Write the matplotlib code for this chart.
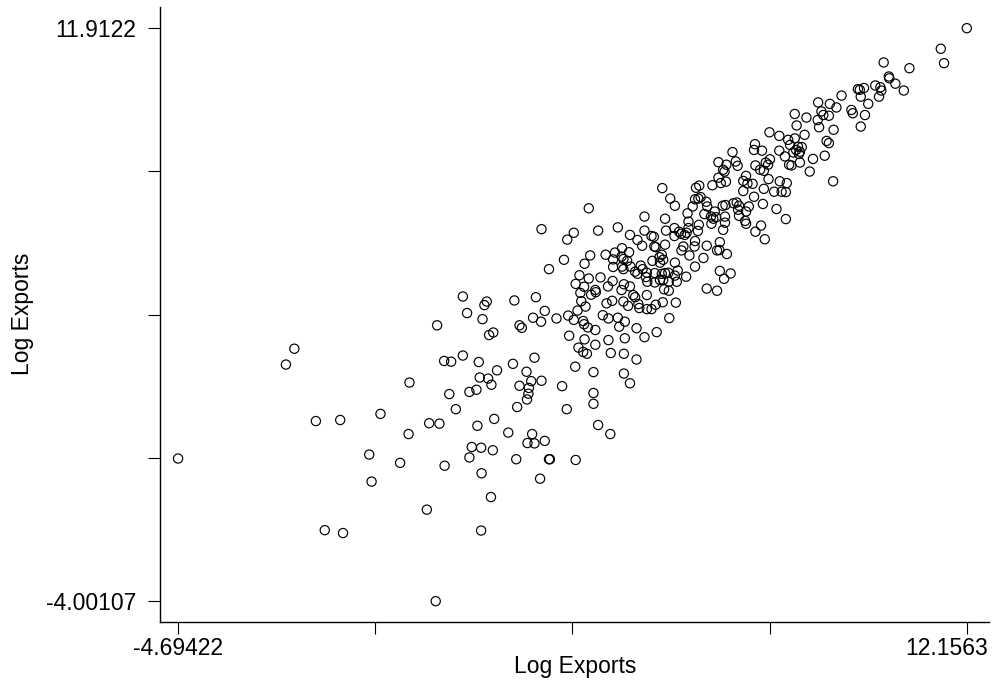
import numpy as np
import matplotlib
matplotlib.use('Agg')
import matplotlib.pyplot as plt
import matplotlib.transforms as mtransforms

plt.rcParams['font.family'] = ['Liberation Sans', 'DejaVu Sans']

# log exports (x) vs log exports (y)
x_vals = [
    0.84, -2.21, -2.39, 0.25, -1.75, -1.23, -0.37, 0.67, 0.89, 0.23,
    -4.694, -0.61, 0.05, -0.56, 0.62, -1.56, -1.17, 0.81,
    # middle band
    4.08, 3.07, 4.28, 3.76, 3.62, 4.70, 3.55, 4.11, 3.99, 4.44,
    4.64, 4.60, 3.23, 4.60, 3.88, 4.08, 4.33, 3.80, 3.98, 4.59,
    4.49, 4.22, 3.90, 4.13, 4.23, 3.92, 4.46, 4.58, 4.01, 3.84,
    3.64, 3.76, 3.96, 3.98, 4.06, 4.22, 4.38, 4.50, 4.70, 4.73,
    3.39, 3.14, 2.89, 3.06, 2.95, 2.49, 1.39, 1.90, 1.85, 1.48,
    1.81, 2.60, 2.65, 2.04, 1.95, 3.66, 3.99, 4.22, 4.50, 4.55,
    3.86, 3.96, 4.04, 0.99, 1.14, 1.39, 1.73, 2.92, 2.46, 2.12,
    2.75, 3.79, 4.18, 1.75, 1.93, 2.00, 1.68, 1.53, 1.10, 2.60,
    2.85, 3.07, 2.80, 2.79, 2.76, 3.51, 4.18, 4.18, 2.55, 1.24,
    3.61, 2.06, 1.70, 2.36, 2.87, 2.77, 2.92, 3.14, 4.28, 4.54,
    1.58, 1.78, 2.03, 1.53, 2.53, 3.23, 3.25, 3.80, 1.00, 1.79,
    3.04, 1.99, 1.78,
    # upper-middle band
    7.94, 8.15, 7.63, 7.61, 7.78, 7.15, 8.15, 7.95, 7.86, 7.91,
    6.85, 7.02, 7.22, 7.26, 7.64, 7.74, 7.82, 6.95, 6.98, 7.44,
    7.92, 6.85, 7.01, 8.16, 5.65, 6.37, 6.44, 6.72, 6.90, 7.38,
    7.47, 7.58, 7.82, 7.38, 8.04, 5.82, 5.92, 6.42, 6.47, 6.35,
    6.59, 6.61, 7.61, 6.30, 6.19, 6.55, 6.77, 6.94, 7.00, 7.17,
    7.24, 7.29, 7.50, 7.27, 7.44, 7.80, 8.09, 5.27, 5.71, 4.96,
    5.12, 5.27, 5.42, 5.47, 5.73, 5.91, 6.01, 6.05, 5.91, 6.13,
    6.17, 6.21, 6.21, 6.43, 6.41, 6.69, 6.74, 6.80, 6.70, 6.99,
    6.99, 6.95, 7.29, 7.42, 7.44, 7.64, 7.76, 7.84, 5.22, 5.48,
    5.51, 5.71, 6.10, 6.06, 6.35, 6.34, 6.60, 6.88, 6.82, 6.87,
    7.03, 4.79, 4.94, 4.78, 4.82, 4.90, 5.44, 5.59, 5.64, 5.67,
    5.60, 6.23, 6.53, 5.92, 6.35, 4.79, 4.82, 4.97, 5.19, 5.23,
    5.07, 5.12, 5.32, 5.30, 5.49, 5.64, 5.71, 5.78, 5.98, 5.92,
    6.16, 6.88, 7.11, 6.97, 5.33, 5.49, 5.60, 5.67, 5.96, 5.79,
    4.83, 4.96, 4.78, 5.69, 5.79, 5.32, 5.03, 5.07, 6.60, 6.82,
    4.82, 4.92, 5.14, 5.16, 5.32, 5.42, 5.51, 5.66, 5.94, 5.80,
    4.85, 5.10, 5.53, 4.85, 5.27, 4.83, 5.10, 4.83, 4.96,
    # top end
    12.156, 11.60, 11.67, 10.38, 10.93, 10.49, 10.50, 10.63, 10.81, 10.20,
    10.31, 10.33, 10.28, 9.83, 9.87, 9.96, 9.89, 9.48, 10.05, 8.98,
    9.23, 9.37, 9.69, 9.72, 9.98, 9.89, 8.48, 8.73, 9.05, 9.09,
    8.97, 9.21, 8.52, 9.00, 9.31, 8.69, 8.34, 8.48, 8.38, 9.16,
    9.21, 8.55, 8.63, 8.51, 8.59, 8.57, 8.45, 8.27, 8.87, 9.12,
    8.36, 8.41, 8.59, 8.80, 9.30, 8.31, 8.20, 8.29, 8.29,
]
y_vals = [
    3.66, 3.01, 2.57, 2.07, 1.00, 1.03, 1.20, 0.94, 0.93, 0.64,
    -0.04, 0.07, -0.16, -0.68, -1.46, -2.03, -2.11, -4.001,
    # middle band
    6.91, 6.33, 6.29, 6.23, 6.04, 6.38, 5.48, 5.60, 5.37, 5.62,
    5.68, 5.49, 5.22, 5.28, 5.05, 4.96, 4.99, 4.81, 4.73, 4.89,
    4.74, 4.64, 4.56, 4.51, 4.58, 4.33, 4.27, 4.34, 4.18, 4.07,
    3.93, 3.81, 3.78, 3.69, 3.60, 3.53, 3.94, 3.85, 3.87, 3.62,
    3.85, 4.06, 3.87, 3.76, 4.44, 4.35, 4.46, 4.32, 4.22, 4.00,
    3.83, 3.66, 3.59, 3.46, 3.39, 3.37, 3.27, 3.12, 3.25, 2.89,
    3.04, 2.92, 2.87, 2.67, 2.65, 2.82, 2.64, 2.76, 2.59, 2.41,
    2.37, 2.51, 2.36, 2.21, 2.18, 2.01, 1.87, 1.81, 1.75, 1.98,
    2.11, 2.12, 1.92, 1.76, 1.60, 1.97, 1.78, 1.48, 1.39, 1.33,
    1.33, 1.06, 0.87, 0.68, 0.64, 0.39, 0.38, 0.45, 0.89, 0.64,
    0.28, 0.26, 0.19, -0.01, -0.06, -0.06, -0.06, -0.08, -0.24, -0.45,
    -0.60, -1.11, -2.04,
    # upper-middle band
    9.02, 8.92, 8.69, 8.53, 8.51, 8.47, 8.51, 8.27, 8.18, 8.12,
    8.19, 8.12, 8.21, 8.09, 8.10, 7.98, 7.95, 7.98, 7.93, 7.81,
    7.72, 7.76, 7.65, 7.66, 7.47, 7.48, 7.54, 7.55, 7.61, 7.67,
    7.60, 7.59, 7.45, 7.39, 7.37, 7.18, 6.98, 7.18, 7.22, 7.16,
    7.09, 6.96, 7.23, 6.96, 6.77, 6.75, 6.82, 6.98, 7.00, 7.05,
    7.07, 6.98, 6.96, 6.87, 6.82, 7.03, 6.89, 6.68, 6.62, 6.17,
    6.03, 6.29, 6.14, 6.12, 6.29, 6.36, 6.26, 6.20, 6.14, 6.17,
    6.23, 6.54, 6.36, 6.45, 6.28, 6.68, 6.62, 6.66, 6.48, 6.68,
    6.51, 6.31, 6.70, 6.56, 6.48, 6.26, 6.43, 6.05, 5.87, 5.85,
    5.83, 5.90, 5.85, 5.74, 6.00, 5.85, 5.87, 5.97, 5.74, 5.75,
    5.64, 5.80, 5.69, 5.57, 5.50, 5.45, 5.45, 5.55, 5.62, 5.48,
    5.40, 5.60, 5.53, 5.40, 5.29, 5.29, 5.22, 5.29, 5.32, 5.22,
    5.15, 5.09, 5.12, 5.00, 5.11, 5.09, 5.11, 5.12, 5.18, 5.04,
    5.01, 5.17, 5.10, 4.95, 4.87, 4.85, 4.92, 4.92, 4.87, 4.87,
    4.80, 4.74, 4.64, 4.66, 4.62, 4.50, 4.50, 4.44, 4.68, 4.62,
    4.32, 4.20, 4.25, 4.14, 4.11, 4.11, 4.23, 4.30, 4.29, 3.86,
    3.76, 3.58, 3.47, 3.30, 3.33, 2.87, 2.71, 2.32, 2.05,
    # top end
    11.912, 11.34, 10.94, 10.96, 10.80, 10.57, 10.52, 10.37, 10.18, 10.32,
    10.27, 10.18, 10.01, 10.22, 10.20, 10.25, 10.01, 10.04, 9.81, 9.85,
    9.81, 9.71, 9.64, 9.55, 9.50, 9.18, 9.53, 9.43, 9.60, 9.50,
    9.36, 9.48, 9.21, 9.16, 9.09, 8.95, 8.81, 8.85, 8.67, 8.78,
    8.72, 8.62, 8.61, 8.53, 8.48, 8.42, 8.46, 8.35, 8.28, 8.37,
    8.12, 8.10, 8.18, 7.93, 7.66, 7.61, 7.37, 7.36, 6.61,
]

x_min, x_max = -4.69422, 12.1563
y_min, y_max = -4.00107, 11.9122
x_ticks = np.linspace(x_min, x_max, 5)
y_ticks = np.linspace(y_min, y_max, 5)
x_tick_labels = ['-4.69422', '', '', '', '12.1563']
y_tick_labels = ['-4.00107', '', '', '', '11.9122']

fig = plt.figure(figsize=(9.92, 6.90), dpi=100)
ax = fig.add_axes([160 / 992, 68 / 690, 829 / 992, 615 / 690])

ax.scatter(x_vals, y_vals, s=44, facecolors='none', edgecolors='black', linewidths=0.85)

ax.set_xlim(-5.08, 12.63)
ax.set_ylim(-4.58, 12.50)

ax.set_xticks(x_ticks)
ax.set_xticklabels(x_tick_labels)
ax.set_yticks(y_ticks)
ax.set_yticklabels(y_tick_labels)

ax.tick_params(axis='x', direction='out', length=8.6, width=0.8, pad=2, labelsize=16.5)
ax.tick_params(axis='y', direction='out', length=9, width=0.8, pad=8, labelsize=16.5)

for side in ['top', 'right']:
    ax.spines[side].set_visible(False)
for side in ['left', 'bottom']:
    ax.spines[side].set_linewidth(1.0)

# the last x label sits a bit left of its tick, as in the original
last = ax.get_xticklabels()[-1]
last.set_transform(last.get_transform() + mtransforms.ScaledTranslation(-20 / 100, 0, fig.dpi_scale_trans))

fig.text(575 / 992, 1 - 666 / 690, 'Log Exports', ha='center', va='center', fontsize=16.5)
fig.text(22 / 992, 1 - 314 / 690, 'Log Exports', ha='center', va='center', rotation=90, fontsize=16.5)

fig.savefig('out.png', dpi=100)
